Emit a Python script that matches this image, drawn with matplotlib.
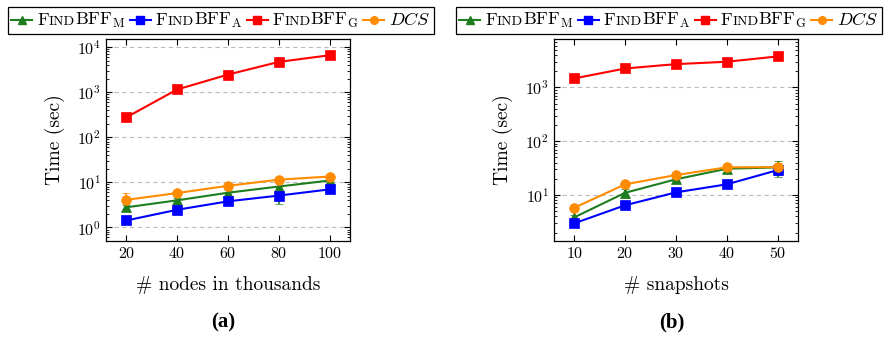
import numpy as np
import matplotlib
matplotlib.use("Agg")
from matplotlib import pyplot as plt
from matplotlib import ticker
from matplotlib.lines import Line2D
from matplotlib.offsetbox import AnchoredOffsetbox, HPacker, TextArea, DrawingArea

plt.rcParams['font.family'] = 'cmr10'
plt.rcParams['mathtext.fontset'] = 'cm'
plt.rcParams['axes.formatter.use_mathtext'] = True
plt.rcParams['axes.unicode_minus'] = False

# panel (a): time vs. number of nodes
nodes = [20, 40, 60, 80, 100]
a_mean = [2.8, 4.0, 5.9, 8.1, 11.0]
a_mean_err = [0.3, 0.5, 0.8, 4.7, 1.5]
a_avg = [1.43, 2.47, 3.8, 5.1, 7.0]
a_avg_err = [0.1, 0.2, 0.3, 0.5, 0.5]
a_greedy = [277, 1150, 2460, 4700, 6600]
a_greedy_err = [10, 40, 80, 150, 200]
a_dcs = [4.1, 5.8, 8.4, 11.5, 13.5]
a_dcs_err = [1.7, 0.6, 0.5, 0.8, 0.8]

# panel (b): time vs. number of snapshots
snaps = [10, 20, 30, 40, 50]
b_mean = [3.85, 11.0, 19.6, 30.8, 32.6]
b_mean_err = [0.4, 2.2, 1.5, 1.5, 11.0]
b_avg = [2.98, 6.45, 11.2, 15.8, 29.0]
b_avg_err = [0.2, 0.5, 0.8, 1.0, 5.0]
b_greedy = [1470, 2250, 2710, 3000, 3770]
b_greedy_err = [50, 60, 70, 80, 100]
b_dcs = [5.8, 15.8, 23.5, 32.7, 33.0]
b_dcs_err = [0.5, 2.0, 1.5, 1.5, 6.0]

GREEN = '#1e7d1e'
BLUE = '#0000ff'
RED = '#ff0000'
ORANGE = '#ff8c00'

series_style = [
    (GREEN, '^', 'M'),
    (BLUE, 's', 'A'),
    (RED, 's', 'G'),
    (ORANGE, 'o', None),
]

fig = plt.figure(figsize=(8.96, 3.38), dpi=100)
ax_a = fig.add_axes([106 / 896, 1 - 241 / 338, 244 / 896, 202 / 338])
ax_b = fig.add_axes([554 / 896, 1 - 241 / 338, 244 / 896, 202 / 338])


def draw_panel(ax, x, ys, errs):
    for (color, marker, _), y, e in zip(series_style, ys, errs):
        ax.errorbar(x, y, yerr=e, color=color, marker=marker, ms=7,
                    lw=1.5, elinewidth=1.2, capsize=3, capthick=1.2,
                    markeredgewidth=0.5, zorder=3)
    ax.set_yscale('log')
    ax.yaxis.set_major_locator(ticker.LogLocator(base=10, numticks=10))
    ax.yaxis.set_minor_locator(ticker.LogLocator(base=10, subs=np.arange(2, 10), numticks=30))
    ax.yaxis.set_minor_formatter(ticker.NullFormatter())
    ax.grid(True, which='major', axis='y', color='#bbbbbb', ls=(0, (4, 3)), lw=0.8)
    ax.set_xticks(x)
    ax.tick_params(which='both', direction='in', top=True, right=True, labelsize=11.5)
    ax.tick_params(which='major', length=4)
    ax.tick_params(which='minor', length=2.5)
    ax.tick_params(axis='x', which='minor', top=False, bottom=False)
    for s in ax.spines.values():
        s.set_linewidth(0.9)
    ax.set_ylabel('Time (sec)', fontsize=14, labelpad=9)


draw_panel(ax_a, nodes, [a_mean, a_avg, a_greedy, a_dcs],
           [a_mean_err, a_avg_err, a_greedy_err, a_dcs_err])
ax_a.set_xlim(12, 108)
ax_a.set_ylim(10 ** -0.3, 10 ** 4.18)
ax_a.set_xlabel('# nodes in thousands', fontsize=14, labelpad=11)

draw_panel(ax_b, snaps, [b_mean, b_avg, b_greedy, b_dcs],
           [b_mean_err, b_avg_err, b_greedy_err, b_dcs_err])
ax_b.set_xlim(6, 54)
ax_b.set_ylim(10 ** 0.145, 10 ** 3.9)
ax_b.set_xlabel('# snapshots', fontsize=14, labelpad=11)

fig.text(223 / 896, 1 - 322 / 338, '(a)', fontsize=15, fontweight='bold',
         family='Liberation Serif', ha='center', va='center')
fig.text(672 / 896, 1 - 322 / 338, '(b)', fontsize=15, fontweight='bold',
         family='Liberation Serif', ha='center', va='center')


def legend_box(cx):
    # offsetbox sizes are in points (1 px = 0.72 pt here)
    parts = []
    for i, (color, marker, sub) in enumerate(series_style):
        if i > 0:
            parts.append(DrawingArea(3.5, 1, 0, 0))
        da = DrawingArea(15, 8, 0, 0)
        da.add_artist(Line2D([0, 15], [3.3, 3.3], color=color, lw=1.5))
        da.add_artist(Line2D([7.5], [3.3], marker=marker, color=color, ms=5.5))
        parts.append(da)
        parts.append(DrawingArea(3.5, 1, 0, 0))
        if sub is None:
            parts.append(TextArea('$DCS$', textprops=dict(fontsize=13)))
        else:
            parts.append(TextArea('F', textprops=dict(fontsize=13)))
            parts.append(TextArea('IND', textprops=dict(fontsize=10)))
            parts.append(TextArea('BFF$_{\\mathrm{%s}}$' % sub, textprops=dict(fontsize=13)))
    box = HPacker(children=parts, align='baseline', pad=0, sep=0)
    anch = AnchoredOffsetbox(loc='center', child=box, pad=0.25, borderpad=0,
                             frameon=True, bbox_to_anchor=(cx / 896, 1 - 20.5 / 338),
                             bbox_transform=fig.transFigure)
    anch.patch.set_edgecolor('black')
    anch.patch.set_linewidth(0.9)
    anch.patch.set_boxstyle('square', pad=0)
    fig.add_artist(anch)


legend_box(221)
legend_box(669)

fig.savefig('out.png', dpi=100)
